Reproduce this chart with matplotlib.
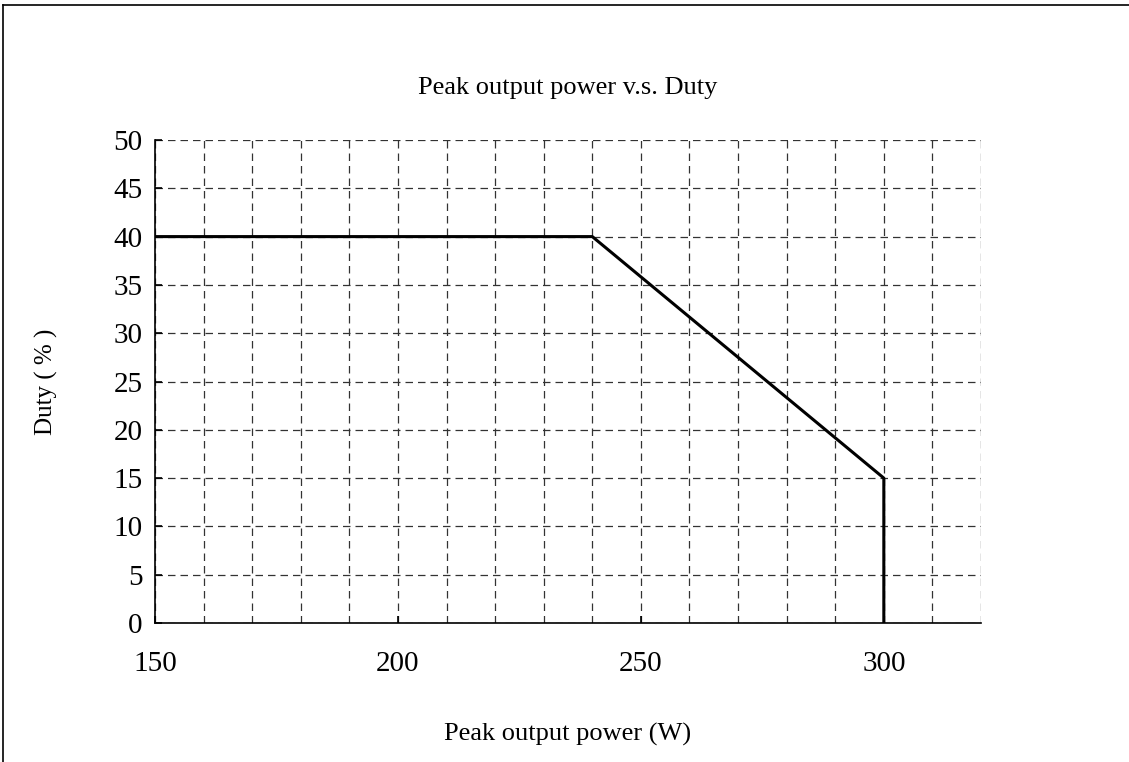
import matplotlib.pyplot as plt
from matplotlib.lines import Line2D

# Data
power = [150, 240, 300, 300]
duty = [40, 40, 15, 0]
x_ticks = [150, 200, 250, 300]
y_ticks = list(range(0, 51, 5))

plt.rcParams['font.family'] = 'Liberation Serif'

fig = plt.figure(figsize=(11.29, 7.62), dpi=100)
ax = fig.add_axes([155 / 1129, 1 - 623 / 762, (981 - 155) / 1129, (623 - 140) / 762])

ax.plot(power, duty, color='black', linewidth=2.2)

ax.set_xlim(150, 320)
ax.set_ylim(0, 50)
ax.set_xticks(range(150, 321, 10), minor=True)
ax.set_xticks(x_ticks)
ax.set_yticks(y_ticks)
ax.tick_params(axis='both', which='major', direction='in', length=5, width=1.2, labelsize=21)
ax.tick_params(axis='x', which='minor', length=0)
ax.tick_params(axis='x', pad=20)
ax.tick_params(axis='y', pad=9)
ax.grid(True, which='both', linestyle=(0, (6, 4)), color='#333333', linewidth=0.9)
ax.set_axisbelow(True)

for side in ['top', 'right']:
    ax.spines[side].set_visible(False)
for side in ['left', 'bottom']:
    ax.spines[side].set_linewidth(1.2)

ax.set_title('Peak output power v.s. Duty', fontsize=19, pad=33)
ax.set_xlabel('Peak output power (W)', fontsize=19, labelpad=33)
ax.set_ylabel('Duty ( % )', fontsize=18, labelpad=40)

# outer frame (top and left edges)
fig.add_artist(Line2D([3 / 1129, 3 / 1129], [0, 1 - 5 / 762], color='black', linewidth=1.2, transform=fig.transFigure))
fig.add_artist(Line2D([3 / 1129, 1], [1 - 5 / 762, 1 - 5 / 762], color='black', linewidth=1.2, transform=fig.transFigure))

fig.savefig('out.png', dpi=100)
